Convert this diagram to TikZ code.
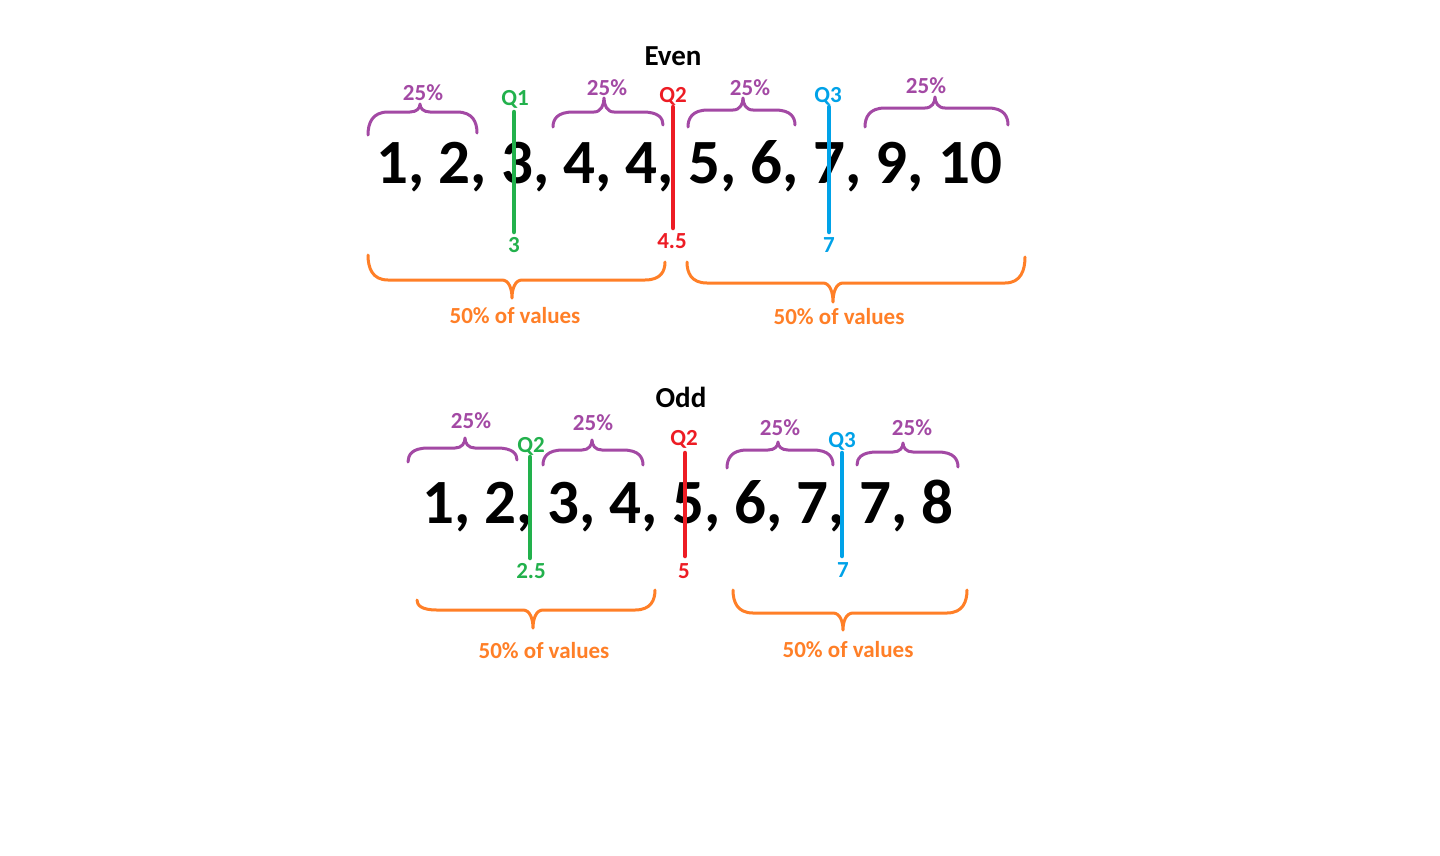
\documentclass[tikz,border=0pt]{standalone}
\usepackage{fontspec}
\setmainfont{Carlito}
\definecolor{qpurple}{RGB}{163,73,164}
\definecolor{qorange}{RGB}{255,127,39}
\definecolor{qgreen}{RGB}{34,177,76}
\definecolor{qred}{RGB}{237,28,36}
\definecolor{qblue}{RGB}{0,162,232}
% hand drawn brace: style, x1, y1, x2, y2, yflat, xtip, ytip
\newcommand{\handbrace}[8]{%
	\draw[#1] (#2,#3) .. controls (#2,{(#3+#6)/2}) and (#2+4,#6) .. (#2+20,#6) -- (#7-10,#6)
		.. controls (#7-3,#6) and (#7,{(#6+#8)/2}) .. (#7,#8)
		.. controls (#7,{(#6+#8)/2}) and (#7+3,#6) .. (#7+10,#6)
		-- (#4-20,#6) .. controls (#4-4,#6) and (#4,{(#5+#6)/2}) .. (#4,#5);}
\begin{document}
\begin{tikzpicture}[x=1pt,y=-1pt,
		big/.style={font=\fontsize{63}{70}\selectfont\bfseries, anchor=base, inner sep=0pt},
		title/.style={font=\fontsize{29}{32}\selectfont\bfseries, anchor=base, inner sep=0pt},
		lbl/.style={font=\fontsize{23}{26}\selectfont\bfseries, anchor=base, inner sep=0pt},
		qline/.style={line width=4.5pt, line cap=round},
		quarter/.style={qpurple, line width=3pt, line cap=round, line join=round},
		half/.style={qorange, line width=3pt, line cap=round, line join=round}]
		\fill [white] (0,0) rectangle (1440,855);
		\useasboundingbox (0,0) rectangle (1440,855);
		% even
		\node [title] (even) at (673,65) {Even};
		\node [big] (evenvals) at (689,183) {1, 2, 3, 4, 4, 5, 6, 7, 9, 10};
		\node [lbl, qpurple] (ep1) at (423,100) {25\%};
		\node [lbl, qpurple] (ep2) at (607,95) {25\%};
		\node [lbl, qpurple] (ep3) at (750,95) {25\%};
		\node [lbl, qpurple] (ep4) at (926,93) {25\%};
		\node [lbl, qgreen] (eq1) at (515,105) {Q1};
		\node [lbl, qred] (eq2) at (673,102) {Q2};
		\node [lbl, qblue] (eq3) at (828,102) {Q3};
		\node [lbl, qgreen] (ev1) at (514,252) {3};
		\node [lbl, qred] (ev2) at (672,248) {4.5};
		\node [lbl, qblue] (ev3) at (829,252) {7};
		\node [lbl, qorange] (eh1) at (515,323) {50\% of values};
		\node [lbl, qorange] (eh2) at (839,324) {50\% of values};
		\draw [qline, qgreen] (514,112) -- (514,232);
		\draw [qline, qred] (673,107) -- (673,228);
		\draw [qline, qblue] (829,107) -- (829,232);
		\handbrace{quarter}{368}{135}{477}{133}{112}{420}{104}
		\handbrace{quarter}{553}{127}{663}{125}{112}{604}{98}
		\handbrace{quarter}{688}{127}{795}{125}{110}{743}{98}
		\handbrace{quarter}{865}{127}{1008}{125}{108}{935}{97}
		\handbrace{half}{368}{255}{665}{262}{280}{512}{298}
		\handbrace{half}{687}{262}{1025}{257}{283}{833}{302}
		% odd
		\node [title] (odd) at (681,407) {Odd};
		\node [big] (oddvals) at (688,523) {1, 2, 3, 4, 5, 6, 7, 7, 8};
		\node [lbl, qpurple] (op1) at (471,428) {25\%};
		\node [lbl, qpurple] (op2) at (593,430) {25\%};
		\node [lbl, qpurple] (op3) at (780,435) {25\%};
		\node [lbl, qpurple] (op4) at (912,435) {25\%};
		\node [lbl, qgreen] (oq1) at (531,452) {Q2};
		\node [lbl, qred] (oq2) at (684,445) {Q2};
		\node [lbl, qblue] (oq3) at (842,447) {Q3};
		\node [lbl, qgreen] (ov1) at (531,578) {2.5};
		\node [lbl, qred] (ov2) at (684,578) {5};
		\node [lbl, qblue] (ov3) at (843,577) {7};
		\node [lbl, qorange] (oh1) at (544,658) {50\% of values};
		\node [lbl, qorange] (oh2) at (848,657) {50\% of values};
		\draw [qline, qgreen] (530,457) -- (530,558);
		\draw [qline, qred] (685,453) -- (685,556);
		\draw [qline, qblue] (842,453) -- (842,556);
		\handbrace{quarter}{408}{462}{517}{460}{448}{465}{438}
		\handbrace{quarter}{543}{465}{643}{465}{450}{592}{440}
		\handbrace{quarter}{727}{468}{833}{465}{450}{778}{442}
		\handbrace{quarter}{857}{465}{958}{467}{452}{903}{443}
		\handbrace{half}{417}{600}{655}{590}{610}{533}{628}
		\handbrace{half}{733}{590}{967}{590}{613}{843}{630}
\end{tikzpicture}
\end{document}
